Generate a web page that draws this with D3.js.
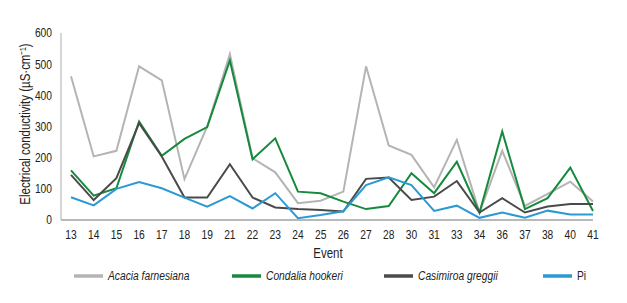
<!DOCTYPE html>
<html>
<head>
<meta charset="utf-8">
<script src="https://cdn.jsdelivr.net/npm/d3@7"></script>
<style>
  body { margin: 0; background: #fff; }
  text { font-family: "Liberation Sans Narrow", "Liberation Sans", Arial, sans-serif; fill: #222; }
</style>
</head>
<body>
<div id="chart"></div>
<script>
var events = ["13","14","15","16","17","18","19","21","22","23","24","25","26","27","28","30","31","33","34","36","37","38","40","41"];
var acacia    = [461,204,222,493,448,131,300,532,198,153,54,62,91,493,239,209,105,257,24,222,45,84,123,59];
var condalia  = [159,78,102,316,206,260,298,512,195,262,91,86,59,35,45,150,86,187,24,284,35,70,168,29];
var casimiroa = [145,64,134,311,204,72,72,179,72,40,35,32,27,132,136,64,75,125,24,70,24,43,51,51];
var pi        = [73,47,100,122,102,72,43,77,37,86,6,16,28,112,137,112,29,46,7,24,7,30,18,18];
var yTicks = [0,100,200,300,400,500,600];

var seriesNames = ["Acacia farnesiana","Condalia hookeri","Casimiroa greggii","Pi"];
var seriesData = [acacia, condalia, casimiroa, pi];
var seriesColors = ["#b4b4b4","#168a3c","#4a4a4a","#2b9ad3"];
var italic = [true, true, true, false];

// fake a narrow font by squeezing the text horizontally
var squeeze = 0.82;

var width = 627, height = 303;
var svg = d3.select("#chart").append("svg")
    .attr("width", width)
    .attr("height", height);

var x = d3.scalePoint()
    .domain(events)
    .range([71, 593]);

var y = d3.scaleLinear()
    .domain([0, 600])
    .range([220, 33]);

// axis lines
svg.append("line")
    .attr("x1", 61).attr("x2", 61)
    .attr("y1", y(600)).attr("y2", y(0))
    .attr("stroke", "#c8c8c8").attr("stroke-width", 1.5);
svg.append("line")
    .attr("x1", 61).attr("x2", 593)
    .attr("y1", y(0)).attr("y2", y(0))
    .attr("stroke", "#b8b8b8").attr("stroke-width", 2);

// y tick labels
svg.selectAll(".ytick")
    .data(yTicks)
    .enter()
    .append("text")
    .attr("transform", function(d){ return "translate(52," + y(d) + ") scale(" + squeeze + ",1)"; })
    .attr("dy", "0.35em")
    .attr("text-anchor", "end")
    .style("font-size", "12.5px")
    .text(function(d){ return d; });

// x tick labels
svg.selectAll(".xtick")
    .data(events)
    .enter()
    .append("text")
    .attr("transform", function(d){ return "translate(" + x(d) + ",235) scale(" + squeeze + ",1)"; })
    .attr("dy", "0.35em")
    .attr("text-anchor", "middle")
    .style("font-size", "12.5px")
    .text(function(d){ return d; });

// axis titles
svg.append("text")
    .attr("transform", "translate(328,253) scale(" + squeeze + ",1)")
    .attr("dy", "0.35em")
    .attr("text-anchor", "middle")
    .style("font-size", "14px")
    .text("Event");

svg.append("text")
    .attr("transform", "translate(25,124) rotate(-90) scale(" + squeeze + ",1)")
    .attr("dy", "0.35em")
    .attr("text-anchor", "middle")
    .style("font-size", "14px")
    .text("Electrical conductivity (µS·cm⁻¹)");

// lines
var line = d3.line()
    .x(function(d, i){ return x(events[i]); })
    .y(function(d){ return y(d); });

svg.selectAll(".series")
    .data(seriesData)
    .enter()
    .append("path")
    .attr("fill", "none")
    .attr("stroke", function(d, i){ return seriesColors[i]; })
    .attr("stroke-width", 2)
    .attr("stroke-linejoin", "miter")
    .attr("d", line);

// legend
var legendX = [74, 232, 384, 543];
var legend = svg.selectAll(".legend")
    .data(seriesNames)
    .enter()
    .append("g")
    .attr("transform", function(d, i){ return "translate(" + legendX[i] + ",276)"; });

legend.append("line")
    .attr("x1", 0).attr("x2", 29)
    .attr("y1", 0).attr("y2", 0)
    .attr("stroke", function(d, i){ return seriesColors[i]; })
    .attr("stroke-width", 3.5);

legend.append("text")
    .attr("transform", "translate(34,0) scale(" + squeeze + ",1)")
    .attr("dy", "0.35em")
    .style("font-size", "12.5px")
    .style("font-style", function(d, i){ return italic[i] ? "italic" : "normal"; })
    .text(function(d){ return d; });
</script>
</body>
</html>
